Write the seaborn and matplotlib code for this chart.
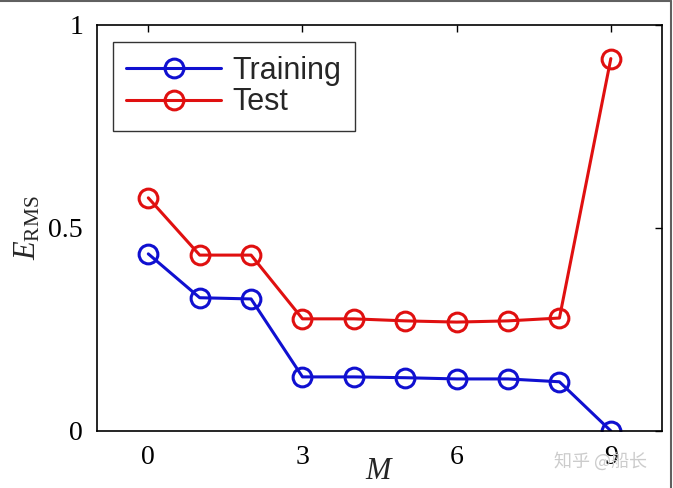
import matplotlib
matplotlib.use("Agg")
import matplotlib.pyplot as plt
import seaborn as sns
import pandas as pd
from matplotlib.lines import Line2D

M = [0, 1, 2, 3, 4, 5, 6, 7, 8, 9]
training = [0.436, 0.328, 0.325, 0.133, 0.133, 0.131, 0.128, 0.128, 0.121, 0.0]
test = [0.574, 0.433, 0.433, 0.276, 0.276, 0.271, 0.268, 0.271, 0.278, 0.917]
x_ticks = [0, 3, 6, 9]
y_ticks = [0, 0.5, 1]
y_tick_labels = ["0", "0.5", "1"]

df = pd.DataFrame({
    "M": M + M,
    "E": training + test,
    "set": ["Training"] * len(M) + ["Test"] * len(M),
})

sns.set_theme(style="white")
plt.rcParams["font.family"] = ["Liberation Serif", "DejaVu Serif"]
plt.rcParams["mathtext.fontset"] = "custom"
plt.rcParams["mathtext.rm"] = "Liberation Serif"
plt.rcParams["mathtext.it"] = "Liberation Serif:italic"

fig = plt.figure(figsize=(6.73, 4.88), dpi=100)
ax = fig.add_axes([0.144, 0.117, 0.840, 0.832])

palette = {"Training": "#1010d0", "Test": "#e01010"}
sns.lineplot(data=df, x="M", y="E", hue="set", palette=palette, marker="o",
             markersize=13.5, markerfacecolor="none", markeredgewidth=2.2,
             linewidth=2.2, legend=False, ax=ax)
for line, key in zip(ax.lines, ["Training", "Test"]):
    line.set_markeredgecolor(palette[key])
    line.set_label(key)

ax.set_xlim(-1, 10)
ax.set_ylim(0, 1)
ax.set_xticks(x_ticks)
ax.set_xticklabels([str(t) for t in x_ticks])
ax.set_yticks(y_ticks)
ax.set_yticklabels(y_tick_labels)
ax.tick_params(direction="in", length=5, width=1, top=True, right=True,
               labelsize=20, colors="black", pad=10)
for s in ax.spines.values():
    s.set_color("black")
    s.set_linewidth(1.2)

ax.set_xlabel(r"$M$", fontsize=22, labelpad=-9)
ax.set_ylabel(r"$E_{\mathrm{RMS}}$", fontsize=22, labelpad=4)

leg = ax.legend(handles=ax.lines[:2], loc="upper left",
                bbox_to_anchor=(0.028, 0.958), frameon=True, fancybox=False,
                prop={"family": "Liberation Sans", "size": 22},
                handlelength=3.1, handletextpad=0.35, borderpad=0.45,
                labelspacing=0.05, borderaxespad=0)
leg.get_frame().set_edgecolor("black")
leg.get_frame().set_linewidth(1.0)

fig.text(0.893, 0.055, "知乎 @船长", fontsize=13, color="#cccccc",
         ha="center", va="center",
         family=["Noto Sans CJK SC", "DejaVu Sans"])

fig.lines.append(Line2D([0, 0.997], [0.997, 0.997], transform=fig.transFigure,
                        color="#606060", linewidth=1.5))
fig.lines.append(Line2D([0.997, 0.997], [0, 0.997], transform=fig.transFigure,
                        color="#606060", linewidth=1.5))

fig.savefig("out.png", dpi=100)
